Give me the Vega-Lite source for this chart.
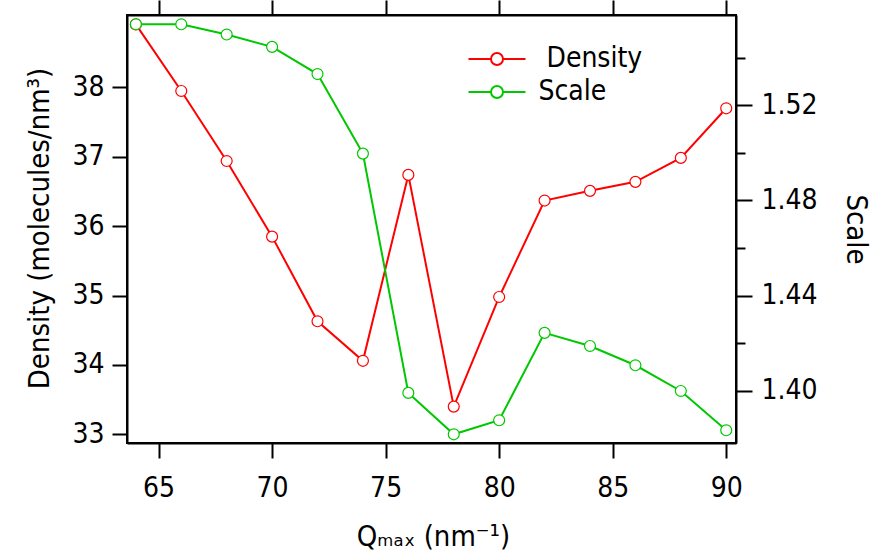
{
  "$schema": "https://vega.github.io/schema/vega-lite/v6.json",
  "width": 609,
  "height": 428,
  "autosize": {"type": "none"},
  "padding": {"left": 127, "top": 15, "right": 136, "bottom": 116},
  "background": "white",
  "config": {
    "font": "DejaVu Sans Condensed",
    "view": {"stroke": "black", "strokeWidth": 2},
    "axis": {
      "domainColor": "black", "domainWidth": 2, "tickColor": "black", "tickWidth": 2,
      "labelColor": "black", "labelFontSize": 28, "labelFont": "DejaVu Sans Condensed",
      "titleFontSize": 29, "titleFont": "DejaVu Sans Condensed", "titleFontWeight": "normal", "titleColor": "black",
      "grid": false
    },
    "legend": {
      "labelFont": "DejaVu Sans Condensed", "labelFontSize": 28, "labelColor": "black"
    }
  },
  "datasets": {
    "density": [
      {"q": 64, "density": 38.91, "series": "Density"},
      {"q": 66, "density": 37.95, "series": "Density"},
      {"q": 68, "density": 36.94, "series": "Density"},
      {"q": 70, "density": 35.85, "series": "Density"},
      {"q": 72, "density": 34.63, "series": "Density"},
      {"q": 74, "density": 34.06, "series": "Density"},
      {"q": 76, "density": 36.74, "series": "Density"},
      {"q": 78, "density": 33.40, "series": "Density"},
      {"q": 80, "density": 34.98, "series": "Density"},
      {"q": 82, "density": 36.37, "series": "Density"},
      {"q": 84, "density": 36.51, "series": "Density"},
      {"q": 86, "density": 36.64, "series": "Density"},
      {"q": 88, "density": 36.985, "series": "Density"},
      {"q": 90, "density": 37.70, "series": "Density"}
    ],
    "scale": [
      {"q": 64, "scale": 1.554, "series": "Scale"},
      {"q": 66, "scale": 1.554, "series": "Scale"},
      {"q": 68, "scale": 1.5497, "series": "Scale"},
      {"q": 70, "scale": 1.5445, "series": "Scale"},
      {"q": 72, "scale": 1.5331, "series": "Scale"},
      {"q": 74, "scale": 1.4997, "series": "Scale"},
      {"q": 76, "scale": 1.3992, "series": "Scale"},
      {"q": 78, "scale": 1.3818, "series": "Scale"},
      {"q": 80, "scale": 1.3877, "series": "Scale"},
      {"q": 82, "scale": 1.4244, "series": "Scale"},
      {"q": 84, "scale": 1.4189, "series": "Scale"},
      {"q": 86, "scale": 1.4108, "series": "Scale"},
      {"q": 88, "scale": 1.4000, "series": "Scale"},
      {"q": 90, "scale": 1.3835, "series": "Scale"}
    ]
  },
  "layer": [
    {
      "data": {"name": "density"},
      "mark": {"type": "line", "strokeWidth": 2, "point": {"filled": false, "fill": "white", "size": 120, "strokeWidth": 1.2}},
      "encoding": {
        "x": {
          "field": "q", "type": "quantitative",
          "scale": {"domain": [63.61, 90.43], "nice": false, "zero": false},
          "axis": {
            "orient": "bottom", "values": [65, 70, 75, 80, 85, 90], "tickSize": 15, "labelPadding": 16,
            "title": "Q\u2098\u2090\u2093 (nm\u207b\u00b9)", "titleX": 306, "titleY": 102, "titleBaseline": "alphabetic", "titleAlign": "center"
          }
        },
        "y": {
          "field": "density", "type": "quantitative",
          "scale": {"domain": [32.875, 39.045], "nice": false, "zero": false},
          "axis": {
            "orient": "left", "values": [33, 34, 35, 36, 37, 38], "tickSize": 15, "labelPadding": 8,
            "title": "Density (molecules/nm\u00b3)", "titleAngle": 270, "titleX": -88, "titleY": 213, "titleBaseline": "middle", "titleAlign": "center"
          }
        },
        "color": {
          "field": "series", "type": "nominal",
          "scale": {"domain": ["Density", "Scale"], "range": ["#ff0000", "#00c800"]},
          "legend": {
            "orient": "none", "legendX": 356, "legendY": 30, "title": null, "padding": 0,
            "symbolType": "M-2.375,0L-0.5,0M0.5,0L2.375,0M-0.5,0A0.5,0.5,0,1,1,0.5,0A0.5,0.5,0,1,1,-0.5,0",
            "symbolSize": 576, "symbolStrokeWidth": 2, "labelOffset": 27.5, "rowPadding": 5,
            "labelExpr": "datum.label === 'Density' ? '\u200b\u00a0Density' : datum.label",
            "encode": {"symbols": {"update": {"fill": {"value": "white"}}}}
          }
        }
      }
    },
    {
      "data": {"name": "scale"},
      "mark": {"type": "line", "strokeWidth": 2, "point": {"filled": false, "fill": "white", "size": 120, "strokeWidth": 1.2}},
      "encoding": {
        "x": {
          "field": "q", "type": "quantitative",
          "scale": {"domain": [63.61, 90.43], "nice": false, "zero": false},
          "axis": {"orient": "top", "values": [65, 70, 75, 80, 85, 90], "tickSize": 15, "labels": false, "title": null}
        },
        "y": {
          "field": "scale", "type": "quantitative",
          "scale": {"domain": [1.37815, 1.5579], "nice": false, "zero": false},
          "axis": {
            "orient": "right", "values": [1.40, 1.44, 1.48, 1.52], "format": ".2f", "tickSize": 16, "labelPadding": 9,
            "title": "Scale", "titleAngle": 90, "titleX": 119, "titleY": 214, "titleBaseline": "middle", "titleAlign": "center"
          }
        },
        "color": {"field": "series", "type": "nominal"}
      }
    },
    {
      "data": {"name": "scale"},
      "mark": {"type": "point", "opacity": 0},
      "encoding": {
        "x": {
          "field": "q", "type": "quantitative",
          "scale": {"domain": [63.61, 90.43], "nice": false, "zero": false},
          "axis": null
        },
        "y": {
          "field": "scale", "type": "quantitative",
          "scale": {"domain": [1.37815, 1.5579], "nice": false, "zero": false},
          "axis": {"orient": "right", "values": [1.42, 1.46, 1.50, 1.54], "labels": false, "tickSize": 9, "title": null, "domain": false}
        }
      }
    }
  ],
  "resolve": {"scale": {"y": "independent"}, "axis": {"x": "independent", "y": "independent"}}
}
